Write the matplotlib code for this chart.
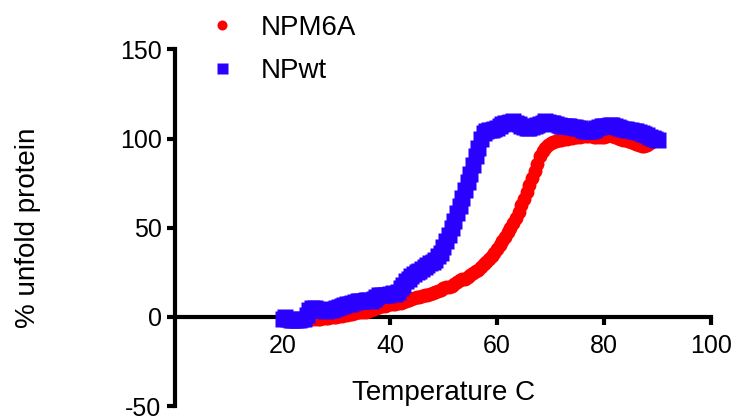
import matplotlib
matplotlib.use("Agg")
import matplotlib.pyplot as plt
import numpy as np

plt.rcParams['font.family'] = ['Liberation Sans', 'DejaVu Sans']
plt.rcParams['axes.unicode_minus'] = False

# Measurement grid (0.5 C steps)
temps_wt = np.arange(20.0, 90.01, 0.5)
npwt = [-1, 0, -1, -2, -2, -2, -1.5, -1, -1, 1,
        4, 5, 5, 4.5, 4, 4, 3.5, 4, 4, 4.5,
        5, 5.5, 6, 6.5, 7, 7.5, 8, 8.5, 9, 9,
        9, 9.5, 9.5, 9, 10, 11, 12, 12.5, 12, 12.5,
        13, 13.5, 13, 14, 16, 18, 20, 21.5, 23, 24,
        25, 26, 27, 28, 29, 30, 31, 32, 34, 36,
        39, 42.5, 46, 50, 54, 58, 62, 66.5, 71, 75.5,
        80, 85, 90, 95, 100, 103, 104.5, 105, 105, 105.5,
        106, 107, 108, 108.5, 109, 109.5, 110, 109, 108, 107,
        106.5, 106, 106, 106.5, 107, 107.5, 108, 109, 110, 109.5,
        109, 108.5, 108, 107.5, 107, 107, 107, 107, 106.5, 106.5,
        106, 106, 105, 104.5, 104, 104, 105, 106, 106.5, 107,
        107, 107, 107.5, 107.5, 107, 106.5, 106, 105.5, 105.5, 105,
        105, 104.5, 104, 103.5, 103, 102.5, 102, 101, 100.5, 100,
        99.5]

temps_m6a = np.arange(25.0, 90.01, 0.5)
npm6a = [-1, -1, -1, -1, -1, -0.5, -0.5, -0.5, 0, 0,
         0, 0.5, 0.5, 1, 1, 1.5, 1.5, 2, 2.5, 2.5,
         3, 3, 3.5, 4, 4.5, 5, 5.5, 6, 6, 6.5,
         7, 7, 7.5, 8, 8, 8.5, 9, 9.5, 10, 10.5,
         11, 11, 11.5, 12, 12.5, 13, 13.5, 14, 14.5, 15,
         16, 16.5, 17, 17.5, 18.5, 19.5, 20.5, 21, 21.5, 22.5,
         23.5, 24.5, 25.5, 26.5, 28, 29.5, 31, 32.5, 34, 36,
         38, 40.5, 42.5, 45, 47.5, 50, 52.5, 55.5, 59, 62.5,
         66, 70, 74, 78, 82, 86, 90, 93, 95, 96.5,
         97.5, 98, 98.5, 99, 99.5, 100, 100, 100.5, 100.5, 101,
         101, 101, 101.5, 101.5, 101.5, 101.5, 101, 101, 101, 101,
         101, 101.5, 102, 101.5, 101, 100.5, 100, 99.5, 99, 98.5,
         98, 97.5, 97, 96.5, 96, 96, 96.5, 97.5, 98.5, 99,
         99.5]

x_ticks = [20, 40, 60, 80, 100]
y_ticks = [-50, 0, 50, 100, 150]

fig = plt.figure(figsize=(7.37, 4.18), dpi=100)
ax = fig.add_axes([0.2381, 0.0287, 0.7273, 0.8529])

h1, = ax.plot(temps_m6a, npm6a, 'o', color='#ff0000', ms=10, mec='none',
              label='NPM6A', zorder=3, clip_on=False)
h2, = ax.plot(temps_wt, npwt, 's', color='#2a00ff', ms=11, mec='none',
              label='NPwt', zorder=4, clip_on=False)

ax.set_xlim(0, 100)
ax.set_ylim(-50, 150)
ax.spines['top'].set_visible(False)
ax.spines['right'].set_visible(False)
ax.spines['bottom'].set_position(('data', 0))
for s in ('left', 'bottom'):
    ax.spines[s].set_linewidth(3)
    ax.spines[s].set_capstyle('projecting')
ax.set_xticks(x_ticks)
ax.set_yticks(y_ticks)
ax.tick_params(axis='both', width=3, length=6, labelsize=18, direction='out')
ax.tick_params(axis='x', pad=6)
ax.tick_params(axis='y', pad=4)

ax.set_xlabel('Temperature C', fontsize=20)
ax.xaxis.set_label_coords(0.5, 0.072)
ax.set_ylabel('% unfold protein', fontsize=20)
ax.yaxis.set_label_coords(-0.25, 0.5)

fig.legend(handles=[h1, h2], labels=['NPM6A', 'NPwt'], loc='upper left',
           bbox_to_anchor=(0.282, 0.965), bbox_transform=fig.transFigure,
           frameon=False, fontsize=20, handlelength=1.0, handletextpad=0.9,
           labelspacing=0.62, borderpad=0, borderaxespad=0, markerscale=0.72)

fig.savefig('out.png', dpi=100)
